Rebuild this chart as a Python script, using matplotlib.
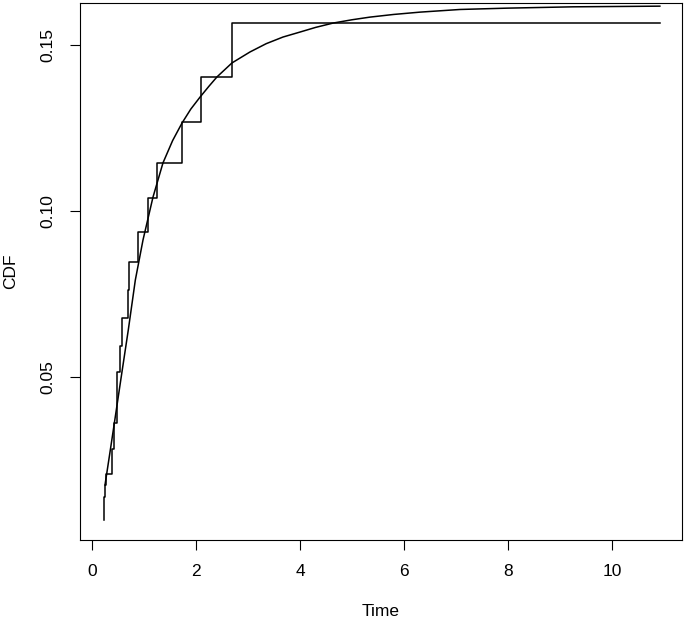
import matplotlib
matplotlib.use("Agg")
import matplotlib.pyplot as plt

step_time = [0.231, 0.231, 0.25, 0.27, 0.385, 0.423, 0.481, 0.538, 0.577, 0.692,
             0.712, 0.885, 1.077, 1.25, 1.731, 2.096, 2.692, 10.92]
step_cdf = [0.0069, 0.0139, 0.0175, 0.0208, 0.0283, 0.0361, 0.0515, 0.0593, 0.0678,
            0.0762, 0.0846, 0.0937, 0.1039, 0.1145, 0.1268, 0.1404, 0.1566, 0.1566]

# Smooth fitted curve
curve_time = [0.25, 0.352, 0.438, 0.573, 0.698, 0.833, 0.981, 1.173, 1.365, 1.55,
              1.731, 1.9, 2.077, 2.25, 2.404, 2.692, 3.038, 3.35, 3.673, 4.0,
              4.3, 4.635, 5.0, 5.346, 5.8, 6.308, 7.077, 7.981, 9.25, 10.92]
curve_cdf = [0.0175, 0.0280, 0.0370, 0.0512, 0.0642, 0.0792, 0.0913, 0.1042, 0.1145,
             0.1212, 0.1265, 0.1307, 0.1343, 0.1376, 0.1404, 0.1446, 0.1479, 0.1504,
             0.1524, 0.1539, 0.1553, 0.1566, 0.1576, 0.1584, 0.1592, 0.1599, 0.1607,
             0.1611, 0.1615, 0.1617]

x_ticks = [0, 2, 4, 6, 8, 10]
y_ticks = [0.05, 0.10, 0.15]
y_tick_labels = ["0.05", "0.10", "0.15"]

plt.rcParams['font.family'] = ['Liberation Sans', 'DejaVu Sans']

fig = plt.figure(figsize=(6.85, 6.22), dpi=100)
ax = fig.add_axes([80/685, (622-540)/622, (682-80)/685, (540-3)/622])

ax.step(step_time, step_cdf, where='post', color='black', linewidth=1.1)
ax.plot(curve_time, curve_cdf, color='black', linewidth=1.1)

ax.set_xlim(-0.231, 11.346)
ax.set_ylim(0.0009, 0.16265)
ax.set_xticks(x_ticks)
ax.set_xticklabels([str(t) for t in x_ticks])
ax.set_yticks(y_ticks)
ax.set_yticklabels(y_tick_labels, rotation=90, va='center')

for s in ax.spines.values():
    s.set_linewidth(0.8)
ax.tick_params(axis='both', length=7.5, width=0.8, labelsize=12.5, pad=10)

ax.set_xlabel("Time", fontsize=12.5, labelpad=18)
ax.set_ylabel("CDF", fontsize=12.5, labelpad=16)

fig.savefig("out.png", dpi=100)
